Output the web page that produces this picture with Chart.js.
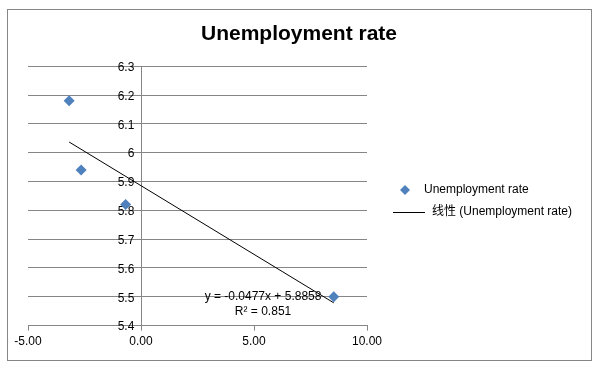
<!DOCTYPE html>
<html>
<head>
<meta charset="utf-8">
<script src="https://cdn.jsdelivr.net/npm/chart.js@4.4.0/dist/chart.umd.min.js"></script>
<style>
    html, body { margin: 0; padding: 0; background: #fff; }
    #wrap { width: 598px; height: 369px; position: relative; }
</style>
</head>
<body>
<div id="wrap"><canvas id="chart" width="598" height="369"></canvas></div>
<script>
// --- Data ---
const seriesName = 'Unemployment rate';
const trendName = '线性 (Unemployment rate)';
const growthX = [-3.18, -2.65, -0.68, 8.53];
const unemploymentY = [6.18, 5.94, 5.82, 5.50];
// trendline end points (as drawn)
const trendX = [-3.18, 8.53];
const trendY = [6.037, 5.479];
const equationLines = ['y = -0.0477x + 5.8858', 'R² = 0.851'];
const equationAt = [5.4, 5.5]; // data position of the label

const FONT = "'Liberation Sans', 'Noto Sans CJK SC', sans-serif";
const GRID = '#868686';
const BLUE = '#4F81BD';

// outer border like the Excel chart area
const frame = {
    id: 'frame',
    beforeDraw(chart) {
        const ctx = chart.ctx;
        ctx.save();
        ctx.fillStyle = '#fff';
        ctx.fillRect(0, 0, chart.width, chart.height);
        ctx.strokeStyle = GRID;
        ctx.lineWidth = 1;
        ctx.strokeRect(7.5, 9.5, 584, 351);
        ctx.restore();
    }
};

// trendline equation + legend on the right
const extras = {
    id: 'extras',
    afterDraw(chart) {
        const ctx = chart.ctx;
        const xs = chart.scales.x, ys = chart.scales.y;
        ctx.save();
        ctx.font = '12px ' + FONT;
        ctx.fillStyle = '#000';
        ctx.textAlign = 'center';
        ctx.textBaseline = 'middle';
        const ex = xs.getPixelForValue(equationAt[0]);
        const ey = ys.getPixelForValue(equationAt[1]);
        equationLines.forEach((t, i) => ctx.fillText(t, ex, ey + i * 15));

        // legend
        const ds = chart.data.datasets;
        ctx.textAlign = 'left';
        // item 1 : diamond
        let lx = 405, ly = 190;
        ctx.fillStyle = ds[0].backgroundColor;
        ctx.beginPath();
        ctx.moveTo(lx - 5, ly); ctx.lineTo(lx, ly - 5); ctx.lineTo(lx + 5, ly); ctx.lineTo(lx, ly + 5);
        ctx.closePath(); ctx.fill();
        ctx.fillStyle = '#000';
        ctx.fillText(ds[0].label, 424, ly);
        // item 2 : line
        ly = 212;
        ctx.strokeStyle = ds[1].borderColor;
        ctx.lineWidth = 1;
        ctx.beginPath(); ctx.moveTo(393, ly + 0.5); ctx.lineTo(425, ly + 0.5); ctx.stroke();
        ctx.fillText(ds[1].label, 432, ly);
        ctx.restore();
    }
};

// empty scale used only to reserve room at a side of the plot
function spacer(pos, size) {
    return {
        type: 'linear',
        position: pos,
        display: true,
        ticks: { display: false },
        grid: { display: false },
        border: { display: false },
        afterFit: s => { s.width = size; }
    };
}

new Chart(document.getElementById('chart'), {
    type: 'scatter',
    data: {
        datasets: [{
            label: seriesName,
            data: growthX.map((x, i) => ({ x: x, y: unemploymentY[i] })),
            backgroundColor: BLUE,
            borderColor: BLUE,
            pointStyle: 'rectRot',
            pointRadius: 5.5,
            pointBorderWidth: 0
        }, {
            label: trendName,
            data: trendX.map((x, i) => ({ x: x, y: trendY[i] })),
            showLine: true,
            borderColor: '#000',
            borderWidth: 1,
            pointRadius: 0
        }]
    },
    options: {
        responsive: false,
        animation: false,
        layout: { padding: { left: 0, right: 0, top: 0, bottom: 16 } },
        plugins: {
            legend: { display: false },
            tooltip: { enabled: false },
            title: {
                display: true,
                text: 'Unemployment rate',
                color: '#000',
                font: { family: FONT, size: 21, weight: 'bold' },
                padding: { top: 22, bottom: 19 }
            }
        },
        scales: {
            x: {
                type: 'linear',
                min: -5, max: 10,
                ticks: {
                    stepSize: 5,
                    color: '#000',
                    font: { family: FONT, size: 12 },
                    padding: 4,
                    maxRotation: 0,
                    callback: v => Number(v).toFixed(2)
                },
                grid: { drawOnChartArea: false, drawTicks: true, tickLength: 5, color: GRID },
                border: { display: true, color: GRID }
            },
            y: {
                position: { x: 0 },
                min: 5.4, max: 6.3,
                ticks: {
                    stepSize: 0.1,
                    color: '#000',
                    font: { family: FONT, size: 12 },
                    labelOffset: 1.5,
                    // labels sit left of the crossing axis; trailing gap keeps them off the line
                    callback: v => String(+Number(v).toFixed(1)) + '  '
                },
                grid: { color: GRID, drawTicks: false },
                border: { display: true, color: GRID }
            },
            padL: spacer('left', 28),
            padR: spacer('right', 231)
        }
    },
    plugins: [frame, extras]
});
</script>
</body>
</html>
